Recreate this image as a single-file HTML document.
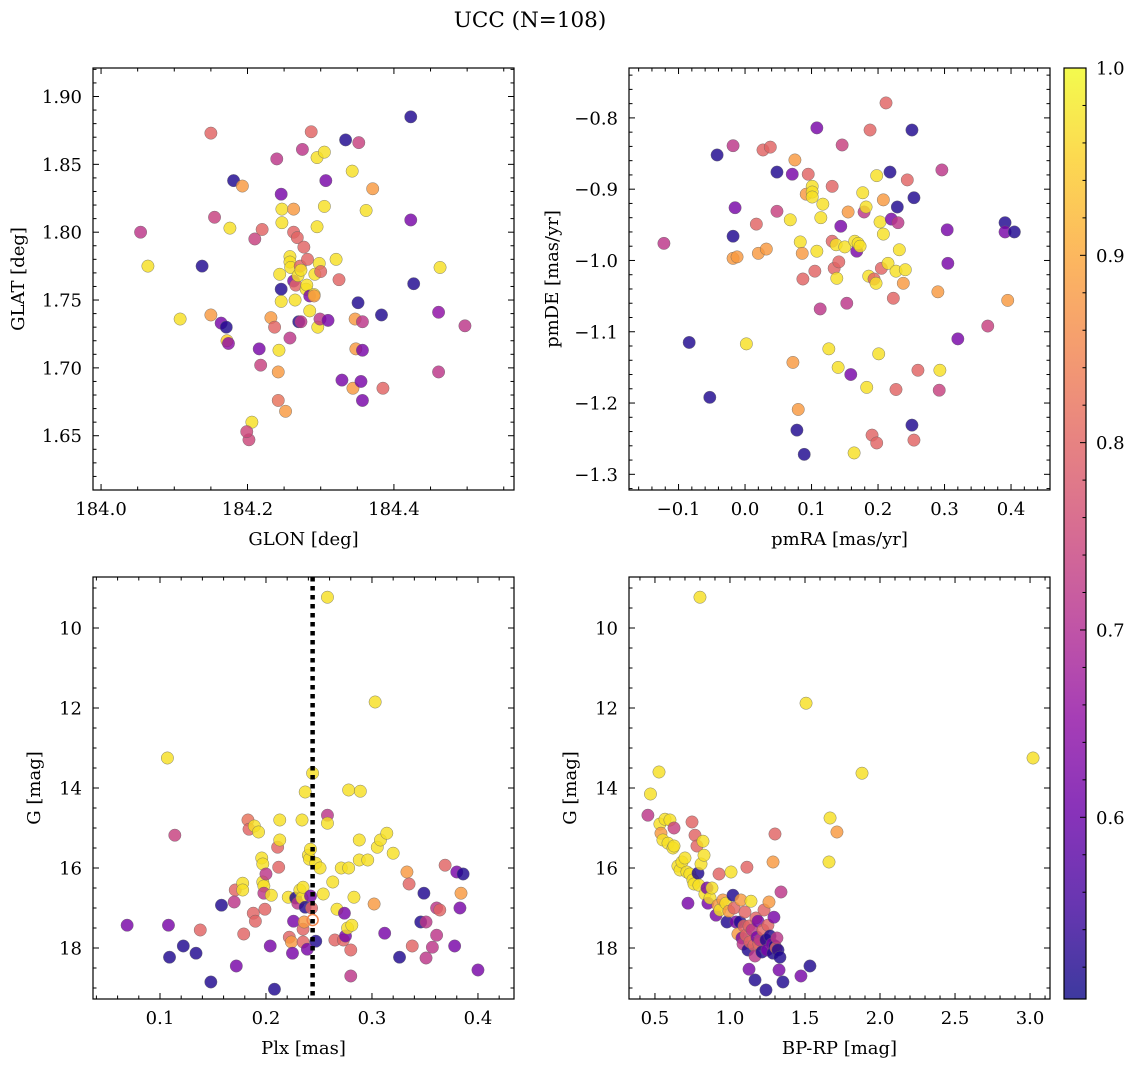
<!DOCTYPE html>
<html><head><meta charset="utf-8"><style>
html,body{margin:0;padding:0;background:#fff}
svg{display:block;font-family:"DejaVu Serif","Liberation Serif",serif}
</style></head><body>
<svg id="fig" width="1136" height="1067" viewBox="0 0 1136 1067" xmlns="http://www.w3.org/2000/svg">
<text x="530" y="27" font-size="21.5" text-anchor="middle">UCC (N=108)</text>
</svg>
<script>
// ---- Panel 1: GLON vs GLAT ----
const p1Glon=[184.054,184.064,184.108,184.138,184.150,184.155,184.150,184.164,184.171,184.172,184.174,184.176,184.181,184.193,184.202,184.206,184.199,184.210,184.216,184.218,184.220,184.232,184.237,184.240,184.242,184.242,184.243,184.246,184.247,184.247,184.244,184.246,184.246,184.252,184.258,184.258,184.258,184.259,184.263,184.263,184.265,184.263,184.266,184.268,184.269,184.270,184.272,184.273,184.273,184.275,184.277,184.280,184.281,184.282,184.285,184.285,184.287,184.291,184.291,184.295,184.295,184.292,184.296,184.298,184.299,184.300,184.305,184.305,184.307,184.310,184.321,184.325,184.329,184.334,184.343,184.344,184.347,184.348,184.351,184.352,184.355,184.357,184.357,184.357,184.362,184.371,184.383,184.385,184.423,184.423,184.427,184.461,184.463,184.461,184.497];
const p1Glat=[1.800,1.775,1.736,1.775,1.873,1.811,1.739,1.733,1.730,1.720,1.718,1.803,1.838,1.834,1.647,1.660,1.653,1.795,1.714,1.702,1.802,1.737,1.730,1.854,1.676,1.697,1.713,1.828,1.807,1.817,1.769,1.749,1.758,1.668,1.722,1.782,1.778,1.774,1.800,1.817,1.750,1.764,1.761,1.796,1.768,1.734,1.775,1.772,1.734,1.861,1.789,1.758,1.761,1.780,1.753,1.742,1.874,1.754,1.753,1.804,1.855,1.769,1.730,1.777,1.736,1.771,1.859,1.819,1.838,1.735,1.780,1.765,1.691,1.868,1.845,1.685,1.736,1.714,1.748,1.866,1.690,1.713,1.734,1.676,1.816,1.832,1.739,1.685,1.885,1.809,1.762,1.741,1.774,1.697,1.731];
const p1Prob=[0.72,0.97,0.97,0.52,0.80,0.74,0.88,0.62,0.52,0.95,0.65,0.97,0.52,0.88,0.75,0.97,0.75,0.74,0.62,0.74,0.80,0.88,0.80,0.72,0.82,0.88,0.97,0.62,0.97,0.97,0.97,0.97,0.52,0.88,0.72,0.97,0.97,0.97,0.80,0.88,0.97,0.62,0.80,0.80,0.97,0.52,0.80,0.97,0.72,0.72,0.80,0.97,0.97,0.80,0.62,0.97,0.80,0.97,0.88,0.97,0.97,0.97,0.97,0.97,0.72,0.80,0.97,0.97,0.62,0.62,0.97,0.80,0.62,0.52,0.97,0.88,0.88,0.88,0.52,0.74,0.62,0.62,0.72,0.62,0.97,0.88,0.52,0.80,0.52,0.62,0.52,0.65,0.97,0.72,0.72];
// ---- Panel 2: pmRA vs pmDE ----
const p2PmRA=[-0.122,-0.084,-0.053,-0.042,-0.018,-0.015,-0.018,-0.018,-0.012,0.017,0.020,0.027,0.032,0.038,0.002,0.048,0.048,0.068,0.071,0.072,0.075,0.078,0.080,0.083,0.086,0.087,0.089,0.092,0.095,0.101,0.101,0.101,0.105,0.108,0.108,0.113,0.114,0.117,0.126,0.131,0.131,0.134,0.137,0.138,0.141,0.144,0.140,0.146,0.150,0.153,0.155,0.159,0.164,0.165,0.168,0.170,0.173,0.177,0.179,0.182,0.183,0.186,0.188,0.191,0.194,0.197,0.198,0.198,0.201,0.203,0.205,0.208,0.208,0.212,0.215,0.218,0.220,0.223,0.227,0.229,0.230,0.232,0.227,0.238,0.241,0.244,0.251,0.254,0.251,0.254,0.260,0.290,0.292,0.293,0.296,0.304,0.305,0.320,0.365,0.391,0.391,0.395,0.405];
const p2PmDE=[-0.976,-1.115,-1.192,-0.852,-0.839,-0.926,-0.966,-0.997,-0.995,-0.949,-0.990,-0.845,-0.984,-0.841,-1.117,-0.876,-0.931,-0.943,-0.879,-1.143,-0.859,-1.238,-1.209,-0.974,-0.990,-1.026,-1.272,-0.907,-0.879,-0.896,-0.904,-0.911,-1.015,-0.814,-0.987,-1.068,-0.940,-0.921,-1.124,-0.896,-0.973,-1.011,-0.978,-1.025,-1.002,-0.952,-1.150,-0.838,-0.981,-1.060,-0.932,-1.160,-1.270,-0.973,-0.987,-0.976,-0.980,-0.905,-0.932,-0.925,-1.178,-1.022,-0.817,-1.245,-1.026,-1.032,-1.256,-0.881,-1.131,-0.946,-1.011,-0.963,-0.915,-0.779,-1.004,-0.876,-0.942,-1.053,-1.015,-0.925,-0.947,-0.985,-1.181,-1.032,-1.013,-0.887,-0.817,-0.912,-1.231,-1.252,-1.154,-1.044,-1.182,-1.154,-0.873,-0.957,-1.004,-1.110,-1.092,-0.947,-0.960,-1.056,-0.960];
const p2Prob=[0.72,0.52,0.52,0.52,0.72,0.62,0.52,0.88,0.88,0.80,0.88,0.80,0.88,0.80,0.97,0.52,0.74,0.97,0.62,0.88,0.88,0.52,0.88,0.97,0.88,0.80,0.52,0.88,0.80,0.97,0.97,0.97,0.80,0.62,0.97,0.72,0.97,0.97,0.97,0.80,0.80,0.80,0.97,0.97,0.80,0.62,0.97,0.74,0.97,0.72,0.88,0.62,0.97,0.97,0.62,0.97,0.97,0.97,0.72,0.97,0.97,0.97,0.80,0.80,0.80,0.97,0.80,0.97,0.97,0.97,0.80,0.97,0.88,0.80,0.97,0.52,0.62,0.80,0.97,0.52,0.72,0.97,0.80,0.88,0.97,0.80,0.52,0.52,0.52,0.80,0.80,0.88,0.74,0.97,0.72,0.62,0.62,0.62,0.74,0.52,0.62,0.88,0.52];
// ---- Panel 3: Plx vs G ----
const p3Plx=[0.069,0.107,0.108,0.109,0.114,0.122,0.134,0.138,0.148,0.158,0.171,0.170,0.172,0.178,0.178,0.179,0.183,0.184,0.188,0.190,0.189,0.193,0.196,0.197,0.197,0.198,0.198,0.199,0.200,0.204,0.205,0.208,0.211,0.213,0.213,0.212,0.221,0.222,0.224,0.225,0.226,0.228,0.230,0.232,0.234,0.234,0.235,0.235,0.235,0.236,0.237,0.237,0.239,0.240,0.241,0.242,0.242,0.243,0.244,0.247,0.247,0.251,0.254,0.258,0.258,0.258,0.263,0.265,0.267,0.271,0.273,0.274,0.275,0.277,0.278,0.278,0.280,0.280,0.281,0.283,0.288,0.288,0.289,0.296,0.302,0.303,0.305,0.308,0.312,0.314,0.320,0.326,0.333,0.335,0.338,0.346,0.349,0.351,0.351,0.357,0.361,0.361,0.364,0.369,0.378,0.380,0.383,0.384,0.386,0.400];
const p3G=[17.43,13.25,17.43,18.23,15.18,17.95,18.13,17.55,18.85,16.93,16.55,16.85,18.45,16.38,16.55,17.65,14.80,15.03,17.13,17.33,14.95,15.10,15.75,15.90,16.35,16.45,16.63,17.03,16.15,17.95,16.68,19.03,15.48,14.80,15.30,15.98,16.73,17.73,17.85,18.13,17.33,16.75,16.88,16.55,14.80,16.75,16.48,17.53,17.85,17.35,14.10,16.98,18.03,15.68,15.78,15.53,16.70,17.00,13.63,17.83,15.88,16.00,16.65,9.23,14.68,14.88,16.35,17.80,17.03,16.00,17.80,17.13,17.70,17.50,16.00,14.05,18.70,18.05,17.43,16.73,15.80,15.30,14.08,15.80,16.90,11.85,15.48,15.30,17.63,15.13,15.63,18.23,16.10,16.40,17.95,17.35,16.63,18.25,17.35,17.98,17.68,17.00,17.05,15.93,17.95,16.10,17.00,16.63,16.15,18.55];
const p3Prob=[0.62,0.97,0.62,0.52,0.74,0.52,0.52,0.80,0.52,0.52,0.80,0.72,0.62,0.97,0.97,0.80,0.82,0.80,0.80,0.80,0.97,0.97,0.97,0.97,0.97,0.97,0.72,0.80,0.72,0.62,0.97,0.52,0.80,0.97,0.97,0.80,0.97,0.80,0.88,0.62,0.62,0.52,0.72,0.97,0.97,0.97,0.97,0.80,0.80,0.88,0.97,0.52,0.62,0.97,0.97,0.97,0.62,0.80,0.97,0.52,0.97,0.97,0.97,0.97,0.72,0.97,0.97,0.80,0.97,0.97,0.80,0.62,0.62,0.97,0.97,0.97,0.72,0.80,0.97,0.97,0.97,0.97,0.97,0.97,0.88,0.97,0.97,0.97,0.62,0.97,0.97,0.52,0.88,0.80,0.80,0.52,0.52,0.72,0.72,0.72,0.72,0.72,0.80,0.80,0.62,0.62,0.62,0.88,0.52,0.62];
const p3CutPlx=[0.244];
const p3HollowPlx=[0.244], p3HollowG=[17.30];
// ---- Panel 4: BP-RP vs G ----
const p4BpRp=[0.453,0.470,0.527,0.533,0.540,0.553,0.567,0.587,0.600,0.620,0.627,0.627,0.653,0.667,0.680,0.700,0.713,0.720,0.733,0.747,0.753,0.760,0.767,0.780,0.787,0.793,0.800,0.807,0.820,0.827,0.833,0.847,0.853,0.867,0.880,0.907,0.920,0.927,0.933,0.953,0.973,0.980,0.993,1.007,1.020,1.027,1.040,1.053,1.067,1.073,1.080,1.087,1.093,1.100,1.107,1.113,1.120,1.127,1.133,1.140,1.147,1.160,1.167,1.173,1.180,1.187,1.193,1.200,1.213,1.220,1.227,1.240,1.247,1.253,1.260,1.267,1.280,1.287,1.293,1.300,1.307,1.313,1.320,1.333,1.287,1.300,1.340,1.327,1.127,1.167,1.240,1.353,1.473,1.533,1.507,1.660,1.667,1.713,1.880,3.020];
const p4G=[14.68,14.15,13.60,14.90,15.13,15.30,14.78,15.38,14.80,15.50,15.00,15.45,15.95,16.05,15.85,15.75,16.10,16.88,16.15,14.85,16.30,16.40,15.18,15.45,16.13,16.43,9.23,15.90,15.33,15.68,16.65,16.50,16.88,16.75,16.50,17.18,16.93,16.15,17.05,16.80,16.88,17.35,17.08,16.10,16.68,17.00,17.35,17.65,17.35,16.80,17.75,17.90,17.45,17.10,17.68,15.98,18.05,17.45,17.85,16.83,17.55,17.93,18.20,17.25,17.73,17.33,17.90,17.80,18.10,17.55,17.05,17.80,18.05,17.43,16.85,17.70,17.90,18.13,17.23,17.95,18.00,17.75,18.05,18.23,15.85,15.15,16.60,18.55,18.53,18.80,19.05,18.85,18.70,18.45,11.88,15.85,14.75,15.10,13.63,13.25];
const p4Prob=[0.72,0.97,0.97,0.97,0.88,0.97,0.97,0.97,0.97,0.97,0.74,0.97,0.97,0.97,0.97,0.97,0.97,0.62,0.97,0.80,0.97,0.97,0.80,0.80,0.52,0.97,0.97,0.97,0.97,0.97,0.97,0.62,0.62,0.97,0.97,0.62,0.88,0.80,0.97,0.88,0.97,0.52,0.88,0.97,0.52,0.80,0.62,0.88,0.52,0.88,0.62,0.72,0.80,0.80,0.80,0.80,0.52,0.80,0.80,0.97,0.72,0.80,0.72,0.80,0.62,0.62,0.80,0.72,0.52,0.80,0.80,0.52,0.62,0.80,0.88,0.52,0.62,0.52,0.62,0.52,0.80,0.72,0.52,0.52,0.88,0.80,0.72,0.62,0.62,0.52,0.52,0.52,0.62,0.52,0.97,0.97,0.97,0.88,0.97,0.97];
// ---- Colorbar ----
const cbTicks=[0.6,0.7,0.8,0.9,1.0];
const cbMin=0.503, cbMax=1.0;

const NS="http://www.w3.org/2000/svg";
const svg=document.getElementById('fig');
function mk(tag,attrs,parent){const e=document.createElementNS(NS,tag);for(const k in attrs)e.setAttribute(k,attrs[k]);(parent||svg).appendChild(e);return e;}
const stops=["#0d0887","#41049d","#6a00a8","#8f0da4","#b12a90","#cc4778","#e16462","#f2844b","#fca636","#fcce25","#f0f921"];
function hex(h){return [parseInt(h.slice(1,3),16),parseInt(h.slice(3,5),16),parseInt(h.slice(5,7),16)];}
function plasma(t){t=Math.max(0,Math.min(1,t));const f=t*10,i=Math.min(9,Math.floor(f)),r=f-i;const a=hex(stops[i]),b=hex(stops[i+1]);return `rgb(${a.map((v,k)=>Math.round(v+(b[k]-v)*r)).join(',')})`;}
function cmap(p){return plasma((p-cbMin)/(cbMax-cbMin));}
const FS=18;

function panel(o){
  const g=mk('g',{});
  
  
  const X=v=>o.x0+(v-o.xmin)/(o.xmax-o.xmin)*(o.x1-o.x0);
  const Y=v=>o.yinv? o.y0+(v-o.ymin)/(o.ymax-o.ymin)*(o.y1-o.y0) : o.y1-(v-o.ymin)/(o.ymax-o.ymin)*(o.y1-o.y0);
  const f=v=>Math.abs(v)<1e-9?0:v;
  const tg=mk('g',{stroke:'#000','stroke-width':1},g);
  for(let v=Math.ceil(o.xmin/o.xminor-1e-6)*o.xminor;v<=o.xmax+1e-9;v+=o.xminor){const x=X(v);const maj=Math.abs(v/o.xmajor-Math.round(v/o.xmajor))<1e-4;const L=maj?6:3.5;
    mk('line',{x1:x,x2:x,y1:o.y1,y2:o.y1-L},tg);mk('line',{x1:x,x2:x,y1:o.y0,y2:o.y0+L},tg);
    if(maj){const t=mk('text',{x:x,y:o.y1+25,'font-size':FS,'text-anchor':'middle',stroke:'none'},g);t.textContent=(f(Math.round(v/o.xmajor)*o.xmajor)).toFixed(o.xdec).replace('-','−');
      }}
  for(let v=Math.ceil(o.ymin/o.yminor-1e-6)*o.yminor;v<=o.ymax+1e-9;v+=o.yminor){const y=Y(v);const maj=Math.abs(v/o.ymajor-Math.round(v/o.ymajor))<1e-4;const L=maj?6:3.5;
    mk('line',{x1:o.x0,x2:o.x0+L,y1:y,y2:y},tg);mk('line',{x1:o.x1,x2:o.x1-L,y1:y,y2:y},tg);
    if(maj){const t=mk('text',{x:o.x0-11,y:y+6.5,'font-size':FS,'text-anchor':'end',stroke:'none'},g);t.textContent=(f(Math.round(v/o.ymajor)*o.ymajor)).toFixed(o.ydec).replace('-','−');
      }}
  const clip='c'+o.name;const cp=mk('clipPath',{id:clip},g);mk('rect',{x:o.x0,y:o.y0,width:o.x1-o.x0,height:o.y1-o.y0},cp);
  const pts=mk('g',{'clip-path':`url(#${clip})`},g);
  o.xs.forEach((v,i)=>{const c=mk('circle',{cx:X(v),cy:Y(o.ys[i]),r:6.2,fill:cmap(o.ps[i]),'fill-opacity':0.82,stroke:'#666','stroke-width':0.4},pts);
    });
  if(o.after)o.after(pts,X,Y);
  const fr=mk('rect',{x:o.x0,y:o.y0,width:o.x1-o.x0,height:o.y1-o.y0,fill:'none',stroke:'#000','stroke-width':1.2},g);
  
  const xl=mk('text',{x:(o.x0+o.x1)/2,y:o.y1+55,'font-size':FS,'text-anchor':'middle'},g);xl.textContent=o.xlabel;
  
  const yx=o.x0-o.ylabOff,yy=(o.y0+o.y1)/2;
  const yl=mk('text',{x:yx,y:yy,'font-size':FS,'text-anchor':'middle',transform:`rotate(-90 ${yx} ${yy})`},g);yl.textContent=o.ylabel;
  
}
panel({name:'glon-glat-panel',x0:93,x1:514,y0:68,y1:490,xmin:183.989,xmax:184.564,ymin:1.610,ymax:1.921,xmajor:0.2,xminor:0.05,ymajor:0.05,yminor:0.01,xdec:1,ydec:2,xs:p1Glon,ys:p1Glat,ps:p1Prob,xlabel:'GLON [deg]',ylabel:'GLAT [deg]',ylabOff:69});
panel({name:'pm-panel',x0:629,x1:1050,y0:68,y1:490,xmin:-0.1745,xmax:0.4586,ymin:-1.322,ymax:-0.730,xmajor:0.1,xminor:0.02,ymajor:0.1,yminor:0.02,xdec:1,ydec:1,xs:p2PmRA,ys:p2PmDE,ps:p2Prob,xlabel:'pmRA [mas/yr]',ylabel:'pmDE [mas/yr]',ylabOff:71});
panel({name:'plx-g-panel',x0:93,x1:514,y0:577,y1:999,xmin:0.0368,xmax:0.434,ymin:8.725,ymax:19.275,yinv:true,xmajor:0.1,xminor:0.02,ymajor:2,yminor:0.5,xdec:1,ydec:0,xs:p3Plx,ys:p3G,ps:p3Prob,xlabel:'Plx [mas]',ylabel:'G [mag]',ylabOff:53,
  after:(g,X,Y)=>{p3CutPlx.forEach(v=>{const l=mk('line',{x1:X(v),x2:X(v),y1:577,y2:999,stroke:'#000','stroke-width':4.5,'stroke-dasharray':'4.5 4.5'},g);});
    p3HollowPlx.forEach((v,i)=>{const c=mk('circle',{cx:X(v),cy:Y(p3HollowG[i]),r:5.5,fill:'none',stroke:'#f2844b','stroke-width':1.5},g);});}});
panel({name:'cmd-panel',x0:629,x1:1050,y0:577,y1:999,xmin:0.327,xmax:3.133,ymin:8.725,ymax:19.275,yinv:true,xmajor:0.5,xminor:0.1,ymajor:2,yminor:0.5,xdec:1,ydec:0,xs:p4BpRp,ys:p4G,ps:p4Prob,xlabel:'BP-RP [mag]',ylabel:'G [mag]',ylabOff:53});
// colorbar
const cb=mk('g',{});


const defs=mk('defs',{},cb);const lg=mk('linearGradient',{id:'cbg',x1:0,y1:1,x2:0,y2:0},defs);
for(let i=0;i<=20;i++){mk('stop',{offset:i/20,'stop-color':plasma(i/20),'stop-opacity':0.8},lg);}
const cy0=68,cy1=999,cx0=1064,cx1=1086;
mk('rect',{x:cx0,y:cy0,width:cx1-cx0,height:cy1-cy0,fill:'url(#cbg)',stroke:'#000','stroke-width':1.2},cb);
const CY=v=>cy1-(v-cbMin)/(cbMax-cbMin)*(cy1-cy0);
for(let v=0.52;v<=1.0001;v+=0.02){const y=CY(v);const maj=Math.abs(v*10-Math.round(v*10))<1e-3;mk('line',{x1:cx1,x2:cx1-(maj?6:3.5),y1:y,y2:y,stroke:'#000'},cb);}
cbTicks.forEach(v=>{const t=mk('text',{x:cx1+10,y:CY(v)+6.5,'font-size':FS},cb);t.textContent=v.toFixed(1);
  });
</script>
</body></html>
